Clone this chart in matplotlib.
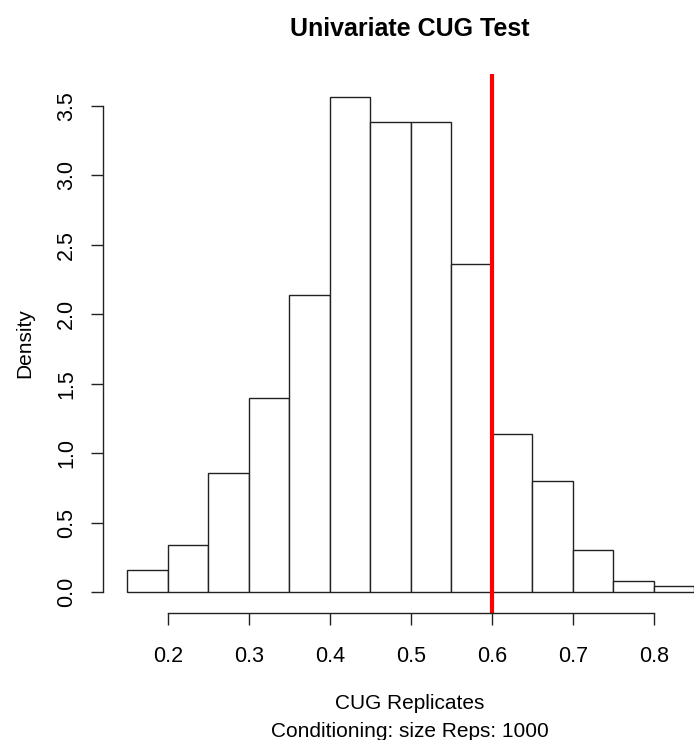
import matplotlib
matplotlib.use("Agg")
import matplotlib.pyplot as plt
import numpy as np

# ── DATA ──────────────────────────────────────────────────────────────────
bin_edges = [0.15, 0.20, 0.25, 0.30, 0.35, 0.40, 0.45, 0.50, 0.55, 0.60,
             0.65, 0.70, 0.75, 0.80, 0.85]
density = [0.16, 0.34, 0.86, 1.40, 2.14, 3.56, 3.38, 3.38, 2.36, 1.14,
           0.80, 0.30, 0.08, 0.04]
observed = 0.6
x_ticks = [0.2, 0.3, 0.4, 0.5, 0.6, 0.7, 0.8]
y_ticks = [0.0, 0.5, 1.0, 1.5, 2.0, 2.5, 3.0, 3.5]

plt.rcParams['font.family'] = ['Liberation Sans', 'DejaVu Sans']

fig = plt.figure(figsize=(6.94, 7.4), dpi=100)
# plot region runs past the right edge (the original was cropped)
ax = fig.add_axes([103 / 694, 1 - 613 / 740, 614 / 694, 539 / 740])

edges = np.array(bin_edges)
ax.bar(edges[:-1], density, width=np.diff(edges), align='edge',
       color='white', edgecolor='#222222', linewidth=1.0)

ax.axvline(observed, color='#ff0000', linewidth=3.0)

ax.set_xlim(0.1198, 0.878)
ax.set_ylim(-0.151, 3.729)

ax.spines['top'].set_visible(False)
ax.spines['right'].set_visible(False)
ax.spines['left'].set_bounds(0, 3.5)
ax.spines['bottom'].set_bounds(0.2, 0.8)
for s in ('left', 'bottom'):
    ax.spines[s].set_color('#222222')
    ax.spines[s].set_linewidth(1.0)

ax.set_xticks(x_ticks)
ax.set_xticklabels([f"{v:.1f}" for v in x_ticks])
ax.set_yticks(y_ticks)
ax.set_yticklabels([f"{v:.1f}" for v in y_ticks], rotation=90, va='center')
ax.tick_params(axis='both', direction='out', length=8.5, width=1.0,
               color='#222222', labelsize=15.5)
ax.tick_params(axis='x', pad=15)
ax.tick_params(axis='y', pad=10)

ax.set_xlabel("CUG Replicates\nConditioning: size Reps: 1000",
              fontsize=15, labelpad=20, linespacing=1.6)
ax.set_ylabel("Density", fontsize=15, labelpad=16)
ax.set_title("Univariate CUG Test", fontsize=18, fontweight='bold', pad=27)

plt.savefig("out.png", dpi=100)
